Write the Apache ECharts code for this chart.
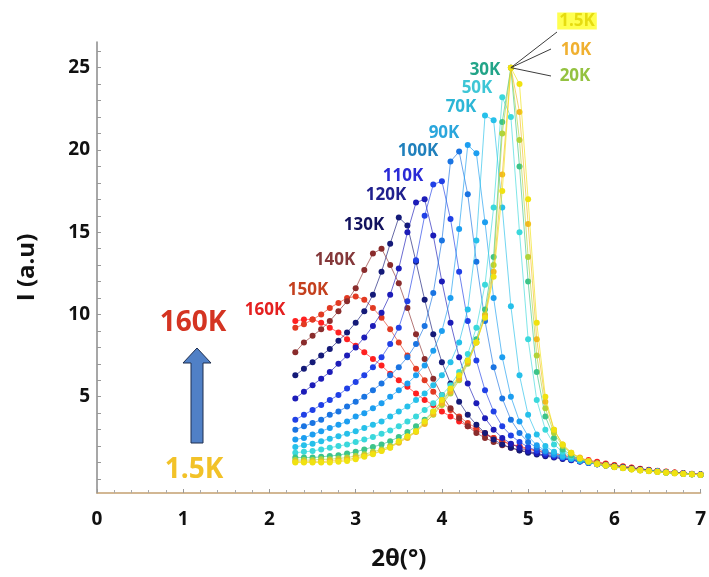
<!DOCTYPE html>
<html><head><meta charset="utf-8">
<script src="https://cdn.jsdelivr.net/npm/echarts@6/dist/echarts.min.js"></script>
<style>html,body{margin:0;padding:0;background:#fff}#c{width:709px;height:577px}</style>
</head><body><div id="c"></div>
<script>
// 2θ positions (degrees)
const xValues = [2.3,2.4,2.5,2.6,2.7,2.8,2.9,3.0,3.1,3.2,
                 3.3,3.4,3.5,3.6,3.7,3.8,3.9,4.0,4.1,4.2,
                 4.3,4.4,4.5,4.6,4.7,4.8,4.9,5.0,5.1,5.2,
                 5.3,5.4,5.5,5.6,5.7,5.8,5.9,6.0,6.1,6.2,
                 6.3,6.4,6.5,6.6,6.7,6.8,6.9,7.0];
const temperatures = ['160K','150K','140K','130K','120K','110K','100K','90K','70K','50K','30K','20K','10K','1.5K'];

const I_160K = [9.6,9.7,9.7,9.5,9.2,8.9,8.5,8.1,7.7,7.3, 6.9,6.4,6.0,5.6,5.2,4.8,4.5,4.1,3.8,3.5, 3.2,3.0,2.7,2.5,2.3,2.1,2.0,1.85,1.75,1.65, 1.55,1.45,1.35,1.25,1.15,1.05,0.95,0.85,0.78,0.7, 0.63,0.56,0.5,0.45,0.4,0.36,0.32,0.29];
const I_150K = [9.2,9.4,9.7,10.0,10.4,10.7,11.0,11.1,10.9,10.4, 9.8,9.1,8.3,7.5,6.7,6.0,5.3,4.7,4.2,3.8, 3.4,3.1,2.8,2.5,2.3,2.1,1.95,1.8,1.7,1.6, 1.5,1.4,1.3,1.2,1.1,1.0,0.9,0.82,0.75,0.68, 0.61,0.55,0.49,0.44,0.39,0.35,0.31,0.28];
const I_140K = [7.7,8.3,8.7,9.1,9.6,10.2,10.8,11.6,12.7,13.7, 14.0,13.0,11.9,10.4,8.8,7.3,6.1,5.1,4.3,3.7, 3.2,2.8,2.5,2.25,2.05,1.9,1.75,1.65,1.55,1.45, 1.38,1.3,1.22,1.14,1.05,0.96,0.88,0.8,0.73,0.66, 0.6,0.54,0.48,0.43,0.38,0.34,0.3,0.27];
const I_130K = [6.3,6.7,7.1,7.5,7.9,8.4,8.9,9.5,10.2,11.2, 12.6,14.3,15.9,15.4,13.2,10.9,8.8,7.1,5.8,4.7, 3.9,3.3,2.8,2.4,2.1,1.9,1.74,1.6,1.49,1.39, 1.3,1.22,1.14,1.06,0.98,0.9,0.82,0.75,0.68,0.62, 0.56,0.51,0.46,0.41,0.37,0.33,0.3,0.27];
const I_120K = [4.9,5.3,5.7,6.1,6.5,7.0,7.5,8.0,8.6,9.3, 10.1,11.2,12.8,15.0,16.8,17.0,14.8,12.0,9.5,7.4, 5.8,4.6,3.7,3.0,2.5,2.15,1.9,1.7,1.56,1.44, 1.34,1.24,1.15,1.07,0.99,0.9,0.82,0.75,0.68,0.62, 0.56,0.5,0.45,0.41,0.37,0.33,0.3,0.27];
const I_110K = [3.6,3.9,4.2,4.5,4.8,5.1,5.5,5.9,6.3,6.8, 7.4,8.2,9.2,10.8,13.3,16.0,17.9,18.1,15.8,12.6, 9.6,7.2,5.4,4.1,3.2,2.65,2.25,1.95,1.72,1.55, 1.41,1.29,1.18,1.08,0.99,0.9,0.82,0.75,0.68,0.61, 0.55,0.5,0.45,0.4,0.36,0.32,0.29,0.26];
const I_100K = [3.0,3.2,3.4,3.6,3.9,4.1,4.4,4.7,5.0,5.4, 5.8,6.3,6.8,7.4,8.2,9.3,11.3,14.5,19.3,19.9, 17.3,13.2,9.6,6.8,4.9,3.6,2.8,2.25,1.9,1.65, 1.48,1.34,1.22,1.11,1.01,0.92,0.83,0.75,0.68,0.61, 0.55,0.5,0.45,0.4,0.36,0.32,0.29,0.26];
const I_90K  = [2.4,2.5,2.7,2.9,3.1,3.3,3.5,3.8,4.0,4.3, 4.6,5.0,5.4,5.8,6.3,6.9,7.8,9.0,11.0,15.2, 20.3,19.8,15.6,11.0,7.4,5.0,3.5,2.6,2.05,1.72, 1.5,1.34,1.21,1.1,1.0,0.9,0.82,0.74,0.67,0.61, 0.55,0.5,0.45,0.4,0.36,0.32,0.29,0.26];
const I_70K  = [1.95,2.05,2.15,2.3,2.45,2.6,2.75,2.9,3.1,3.3, 3.5,3.8,4.1,4.4,4.8,5.2,5.7,6.3,7.1,8.3, 10.3,14.5,22.1,21.8,16.5,10.5,6.3,3.9,2.7,2.0, 1.65,1.42,1.26,1.13,1.02,0.92,0.83,0.75,0.68,0.61, 0.55,0.5,0.45,0.4,0.36,0.32,0.29,0.26];
const I_50K  = [1.6,1.65,1.7,1.8,1.9,2.0,2.1,2.25,2.4,2.55, 2.75,2.95,3.2,3.5,3.8,4.2,4.6,5.1,5.7,6.5, 7.6,9.2,11.8,16.5,23.2,22.0,15.0,8.5,4.8,3.0, 2.1,1.65,1.38,1.2,1.06,0.94,0.84,0.75,0.68,0.61, 0.55,0.5,0.45,0.4,0.36,0.32,0.29,0.26];
const I_30K  = [1.3,1.3,1.3,1.35,1.4,1.45,1.55,1.65,1.8,1.95, 2.1,2.3,2.55,2.85,3.2,3.6,4.1,4.7,5.4,6.2, 7.2,8.5,10.3,13.5,21.7,25.0,19.0,12.0,6.5,3.8, 2.5,1.8,1.45,1.22,1.06,0.93,0.83,0.74,0.67,0.6, 0.54,0.49,0.44,0.4,0.36,0.32,0.29,0.26];
const I_20K  = [1.15,1.15,1.15,1.2,1.2,1.25,1.3,1.4,1.5,1.65, 1.8,2.0,2.25,2.55,2.9,3.4,3.9,4.5,5.2,6.0, 7.0,8.3,10.0,13.0,21.0,25.0,20.6,13.5,7.5,4.3, 2.8,2.0,1.55,1.28,1.1,0.95,0.84,0.75,0.67,0.6, 0.54,0.49,0.44,0.4,0.36,0.32,0.29,0.26];
const I_10K  = [1.05,1.05,1.05,1.05,1.1,1.12,1.18,1.28,1.4,1.55, 1.72,1.92,2.2,2.5,2.85,3.35,3.95,4.6,5.3,6.1, 7.1,8.3,9.9,12.6,18.5,25.0,22.3,15.5,8.5,4.7, 3.0,2.1,1.6,1.3,1.1,0.95,0.84,0.75,0.67,0.6, 0.54,0.49,0.44,0.4,0.36,0.32,0.29,0.26];
const I_1_5K = [1.0,1.0,1.0,1.0,1.0,1.05,1.1,1.2,1.35,1.5, 1.7,1.9,2.3,2.6,2.9,3.5,4.1,4.8,5.5,6.3, 7.2,8.3,9.8,12.3,17.5,25.0,24.0,17.0,9.5,5.0, 3.0,2.1,1.6,1.25,1.05,0.9,0.8,0.72,0.65,0.58, 0.52,0.47,0.42,0.38,0.34,0.3,0.27,0.25];

const xTickLabels = [0,1,2,3,4,5,6,7];
const yTickLabels = [5,10,15,20,25];
const yMinorTicks = [0,1,2,3,4,5,6,7,8,9,10,11,12,13,14,15,16,17,18,19,20,21,22,23,24,25,26];

const seriesValues = [I_160K,I_150K,I_140K,I_130K,I_120K,I_110K,I_100K,I_90K,I_70K,I_50K,I_30K,I_20K,I_10K,I_1_5K];
const curveColors = ['#ff2020','#e23a22','#8a2c2c','#141a78','#1c1cb8','#2040e6','#1a74e2','#1c9ef0','#26c0ea','#3ad8dc','#3cc48a','#b0d43a','#f2b820','#f0e210'];

const chart = echarts.init(document.getElementById('c'), null, {renderer:'canvas'});
const series = seriesValues.map((vals, k) => ({
  name: temperatures[k],
  type: 'line',
  data: xValues.map((x, i) => [x, vals[i]]),
  symbol: 'circle',
  symbolSize: 6,
  showSymbol: true,
  lineStyle: {width: 1, color: curveColors[k], opacity: 0.65},
  itemStyle: {color: curveColors[k]},
  z: 2 + k,
  animation: false
}));

const FONT = '"Open Sans", "DejaVu Sans", sans-serif';
chart.setOption({
  animation: false,
  backgroundColor: '#ffffff',
  grid: {left: 97, right: 6, top: 42, bottom: 84, containLabel: false},
  xAxis: {
    type: 'value', min: 0, max: 7, interval: 1,
    name: '2θ(°)', nameLocation: 'middle', nameGap: 54,
    nameTextStyle: {fontFamily: FONT, fontWeight: 'bold', fontSize: 24, color: '#111'},
    axisLine: {show: true, onZero: false, lineStyle: {color: '#c4a070', width: 1.5}},
    axisTick: {show: true, inside: true, length: 4, lineStyle: {color: '#999'}},
    minorTick: {show: true, splitNumber: 5, length: 3, lineStyle: {color: '#aaa'}},
    axisLabel: {fontFamily: FONT, fontWeight: 'bold', fontSize: 19, color: '#111', margin: 17,
      formatter: v => xTickLabels.includes(v) ? String(v) : ''},
    splitLine: {show: false}
  },
  yAxis: {
    type: 'value', min: -0.85, max: 26.56,
    name: 'I (a.u)', nameLocation: 'middle', nameGap: 58, nameRotate: 90,
    nameTextStyle: {fontFamily: FONT, fontWeight: 'bold', fontSize: 24, color: '#111'},
    axisLine: {show: true, onZero: false, lineStyle: {color: '#8a8a8a', width: 1.5}},
    axisTick: {show: true, inside: true, length: 4, customValues: yMinorTicks, lineStyle: {color: '#999'}},
    axisLabel: {fontFamily: FONT, fontWeight: 'bold', fontSize: 19, color: '#111', margin: 7,
      customValues: yTickLabels},
    splitLine: {show: false}
  },
  series: series
});

// annotations
const peak = chart.convertToPixel({gridIndex: 0}, [xValues[25], I_1_5K[25]]);
const smallFont = 'bold 17px ' + FONT;
const bigFont = 'bold 28px ' + FONT;
const labelDefs = [
  ['30K', 485, 70, '#22a488'],
  ['50K', 477, 88, '#3ec6d6'],
  ['70K', 461, 107, '#2cb6d6'],
  ['90K', 444, 133, '#2aa6dc'],
  ['100K', 418, 151, '#2080bc'],
  ['110K', 403, 176, '#2a2ad6'],
  ['120K', 386, 195, '#20208e'],
  ['130K', 364, 225, '#12125e'],
  ['140K', 335, 260, '#84383a'],
  ['150K', 308, 290, '#c4401e'],
  ['160K', 265, 310, '#e42020'],
  ['10K', 576, 50, '#f0b030'],
  ['20K', 575, 76, '#94c240']
];
const graphics = labelDefs.map(d => ({
  type: 'text', x: d[1], y: d[2], z: 100,
  style: {text: d[0], font: smallFont, fill: d[3], align: 'center', verticalAlign: 'middle', textAlign: 'center', textVerticalAlign: 'middle'}
}));
graphics.push({
  type: 'text', x: 577, y: 21, z: 100,
  style: {text: '1.5K', font: smallFont, fill: '#e6dc10', backgroundColor: '#ffff50', padding: [0, 2, 0, 2],
    align: 'center', verticalAlign: 'middle', textAlign: 'center', textVerticalAlign: 'middle'}
});
[[557, 32], [551, 49], [551, 76]].forEach(e => graphics.push({
  type: 'line', z: 99, shape: {x1: peak[0], y1: peak[1], x2: e[0], y2: e[1]},
  style: {stroke: '#3c3c3c', lineWidth: 1}
}));
graphics.push({
  type: 'text', x: 193, y: 323, z: 100,
  style: {text: '160K', font: bigFont, fill: '#d43422', align: 'center', verticalAlign: 'middle', textAlign: 'center', textVerticalAlign: 'middle'}
});
graphics.push({
  type: 'text', x: 194, y: 470, z: 100,
  style: {text: '1.5K', font: bigFont, fill: '#f2c228', align: 'center', verticalAlign: 'middle', textAlign: 'center', textVerticalAlign: 'middle'}
});
graphics.push({
  type: 'polygon', z: 100,
  shape: {points: [[191, 443], [203, 443], [203, 363], [211, 363], [197, 348], [183, 363], [191, 363]]},
  style: {fill: '#5080c6', stroke: '#1e2e4e', lineWidth: 1}
});
chart.setOption({graphic: {elements: graphics}});
</script>
</body></html>
